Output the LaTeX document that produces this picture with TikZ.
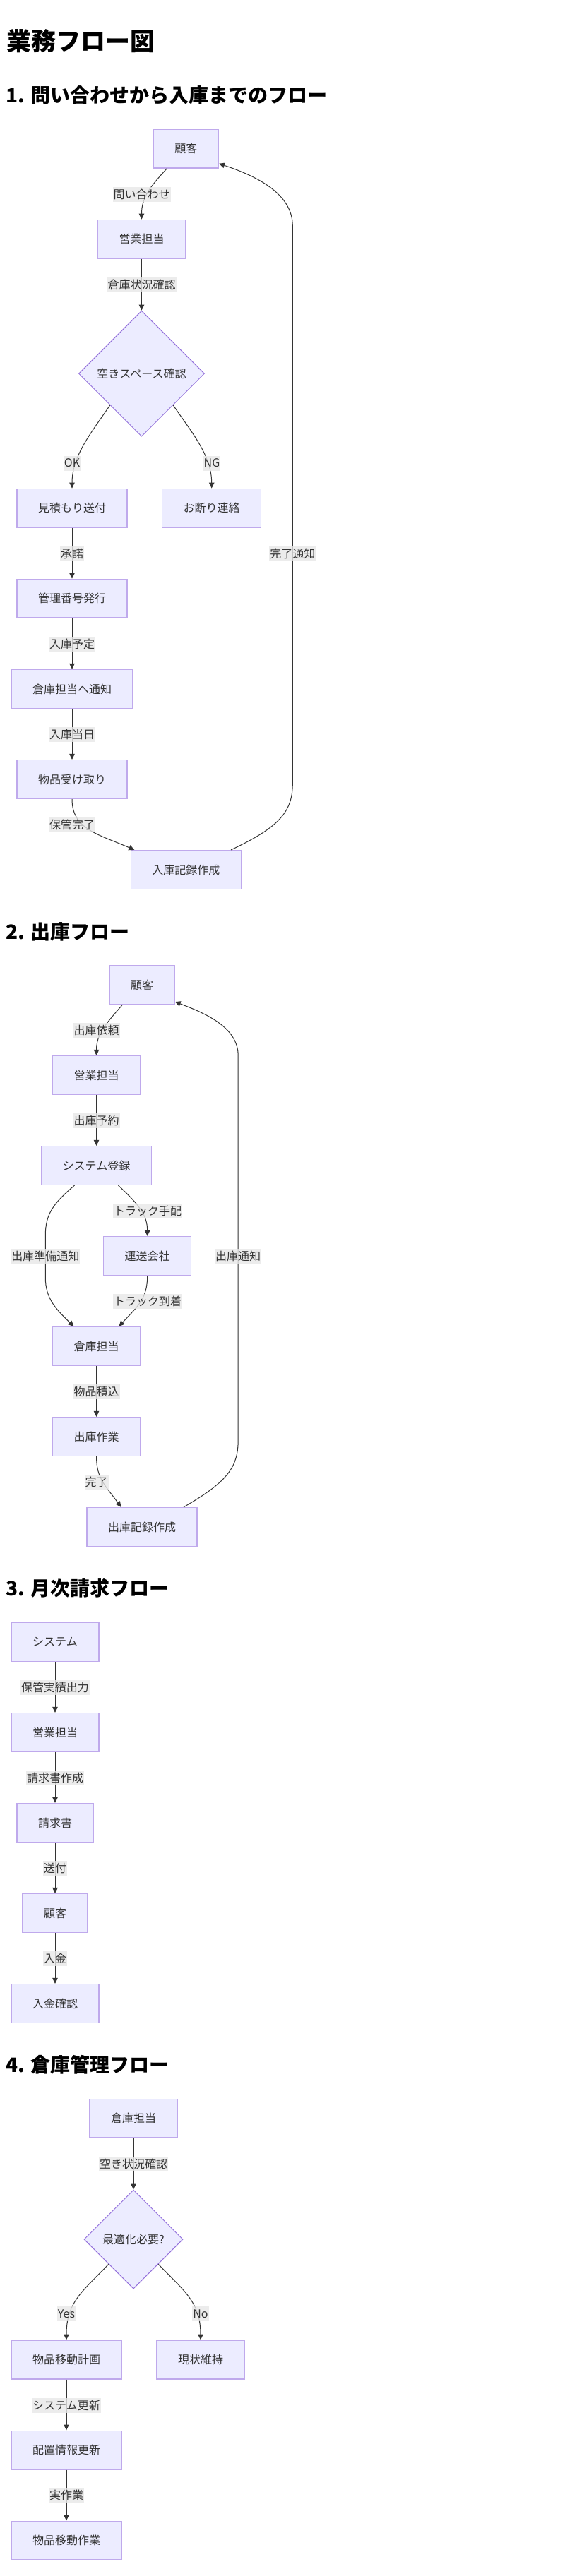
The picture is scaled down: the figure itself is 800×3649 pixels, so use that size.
\documentclass[tikz,border=0pt]{standalone}
\usepackage{fontspec}
\setmainfont{Noto Sans CJK JP}
\usetikzlibrary{shapes.geometric,arrows.meta,calc}
\definecolor{nodefill}{HTML}{ECECFF}
\definecolor{nodeline}{HTML}{BFA9EC}
\definecolor{dialine}{HTML}{9370DB}
\definecolor{edgecol}{HTML}{333333}
\definecolor{lblfill}{HTML}{E8E8E8}
\begin{document}
\begin{tikzpicture}[x=1pt,y=-1pt,
  box/.style={rectangle, draw=nodeline, line width=1.5pt, fill=nodefill, minimum height=54.7pt, inner xsep=30pt, inner ysep=0pt, text=edgecol, font=\fontsize{16}{19}\selectfont},
  dia/.style={diamond, draw=dialine, line width=1pt, fill=nodefill, inner sep=0pt, text=edgecol, font=\fontsize{16}{19}\selectfont},
  edge/.style={draw=edgecol, line width=1pt, -{Triangle[length=8pt,width=7.5pt]}},
  elabel/.style={fill=lblfill, fill opacity=0.8, text opacity=1, text=edgecol, inner xsep=1pt, inner ysep=0pt, minimum height=21pt, font=\fontsize{16}{19}\selectfont},
  htitle/.style={anchor=west, inner sep=0pt, font=\bfseries\fontsize{35}{40}\selectfont},
  hsec/.style={anchor=west, inner sep=0pt, font=\bfseries\fontsize{28}{32}\selectfont}
]
\fill[white] (0,0) rectangle (800,3649);
\useasboundingbox (0,0) rectangle (800,3649);

% titles
\node[htitle] (title) at (9,58) {業務フロー図};
\node[hsec] (h1) at (8,135) {1. 問い合わせから入庫までのフロー};
\node[hsec] (h2) at (8,1320) {2. 出庫フロー};
\node[hsec] (h3) at (8,2250) {3. 月次請求フロー};
\node[hsec] (h4) at (8,2925) {4. 倉庫管理フロー};

% ---------- section 1 ----------
\node[box] (c1) at (263.3,210.7) {顧客};
\node[box] (s1) at (200.5,338.8) {営業担当};
\node[dia, minimum width=178pt, minimum height=178pt] (d1) at (200.5,529.2) {空きスペース確認};
\node[box] (m1) at (102,719.7) {見積もり送付};
\node[box] (n1) at (299.7,719.7) {お断り連絡};
\node[box] (k1) at (102,847.8) {管理番号発行};
\node[box] (w1) at (102,975.9) {倉庫担当へ通知};
\node[box] (g1) at (102,1104) {物品受け取り};
\node[box] (r1) at (263.3,1232) {入庫記録作成};

\draw[edge] ($(c1.south)+(-27,0)$) .. controls (212,265) and (200.5,280) .. (s1.north);
\draw[edge] (s1.south) -- (d1.north);
\draw[edge] (d1.south west) .. controls (130,612) and (102,645) .. (m1.north);
\draw[edge] (d1.south east) .. controls (271,612) and (299.7,645) .. (n1.north);
\draw[edge] (m1.south) -- (k1.north);
\draw[edge] (k1.south) -- (w1.north);
\draw[edge] (w1.south) -- (g1.north);
\draw[edge] (g1.south) .. controls (102,1175) and (140,1182) .. ($(r1.north)+(-73,0)$);
\draw[edge] ($(r1.north)+(63.7,0)$) .. controls (395,1172) and (414.3,1150) .. (414.3,1110) -- (414.3,320) .. controls (414.3,275) and (365,250) .. ($(c1.south east)+(0,-7)$);

\node[elabel] (l11) at (200.5,275.7) {問い合わせ};
\node[elabel] (l12) at (200.5,403) {倉庫状況確認};
\node[elabel] (l13) at (102,656) {OK};
\node[elabel] (l14) at (300,656) {NG};
\node[elabel] (l15) at (102,784) {承諾};
\node[elabel] (l16) at (102,912) {入庫予定};
\node[elabel] (l17) at (102,1040) {入庫当日};
\node[elabel] (l18) at (102,1168) {保管完了};
\node[elabel] (l19) at (414.3,784) {完了通知};

% ---------- section 2 ----------
\node[box] (c2) at (201,1395) {顧客};
\node[box] (s2) at (136.5,1523) {営業担当};
\node[box] (sys2) at (136.5,1651) {システム登録};
\node[box] (t2) at (208.7,1779) {運送会社};
\node[box] (w2) at (136.5,1907) {倉庫担当};
\node[box] (o2) at (136.5,2035) {出庫作業};
\node[box] (r2) at (201,2163) {出庫記録作成};

\draw[edge] ($(c2.south)+(-27.5,0)$) .. controls (150,1450) and (136.5,1465) .. (s2.north);
\draw[edge] (s2.south) -- (sys2.north);
\draw[edge] ($(sys2.south)+(-31,0)$) .. controls (75,1705) and (64.3,1720) .. (64.3,1750) -- (64.3,1810) .. controls (64.3,1840) and (80,1855) .. ($(w2.north)+(-32,0)$);
\draw[edge] ($(sys2.south)+(31,0)$) .. controls (195,1705) and (208.7,1720) .. (t2.north);
\draw[edge] (t2.south) .. controls (208.7,1840) and (195,1850) .. ($(w2.north)+(32,0)$);
\draw[edge] (w2.south) -- (o2.north);
\draw[edge] (o2.south) .. controls (136.5,2095) and (150,2105) .. ($(r2.north)+(-29.6,0)$);
\draw[edge] ($(r2.north)+(59,0)$) .. controls (320,2100) and (337.2,2080) .. (337.2,2040) -- (337.2,1495) .. controls (337.2,1455) and (290,1435) .. ($(c2.south east)+(0,-4)$);

\node[elabel] (l21) at (136.5,1459) {出庫依頼};
\node[elabel] (l22) at (136.5,1587) {出庫予約};
\node[elabel] (l23) at (209,1715) {トラック手配};
\node[elabel] (l24) at (64.3,1779) {出庫準備通知};
\node[elabel] (l25) at (337.2,1779) {出庫通知};
\node[elabel] (l26) at (209,1843) {トラック到着};
\node[elabel] (l27) at (136.5,1971) {物品積込};
\node[elabel] (l28) at (136.5,2099) {完了};

% ---------- section 3 ----------
\node[box] (a3) at (78,2326) {システム};
\node[box] (b3) at (78,2454) {営業担当};
\node[box] (c3) at (78,2582) {請求書};
\node[box] (d3) at (78,2710) {顧客};
\node[box] (e3) at (78,2838) {入金確認};

\draw[edge] (a3.south) -- (b3.north);
\draw[edge] (b3.south) -- (c3.north);
\draw[edge] (c3.south) -- (d3.north);
\draw[edge] (d3.south) -- (e3.north);

\node[elabel] (l31) at (78,2390) {保管実績出力};
\node[elabel] (l32) at (78,2518) {請求書作成};
\node[elabel] (l33) at (78,2646) {送付};
\node[elabel] (l34) at (78,2774) {入金};

% ---------- section 4 ----------
\node[box] (w4) at (189,3000.6) {倉庫担当};
\node[dia, minimum width=140pt, minimum height=140pt] (d4) at (189,3172) {最適化必要?};
\node[box] (p4) at (94,3342.6) {物品移動計画};
\node[box] (k4) at (284,3342.6) {現状維持};
\node[box] (h4b) at (94,3470.6) {配置情報更新};
\node[box] (m4) at (94,3598.6) {物品移動作業};

\draw[edge] (w4.south) -- (d4.north);
\draw[edge] (d4.south west) .. controls (118,3245) and (94,3260) .. (p4.north);
\draw[edge] (d4.south east) .. controls (260,3245) and (284,3260) .. (k4.north);
\draw[edge] (p4.south) -- (h4b.north);
\draw[edge] (h4b.south) -- (m4.north);

\node[elabel] (l41) at (189,3065.5) {空き状況確認};
\node[elabel] (l42) at (94,3277.7) {Yes};
\node[elabel] (l43) at (284,3277.7) {No};
\node[elabel] (l44) at (94,3407) {システム更新};
\node[elabel] (l45) at (94,3534.6) {実作業};
\end{tikzpicture}
\end{document}
